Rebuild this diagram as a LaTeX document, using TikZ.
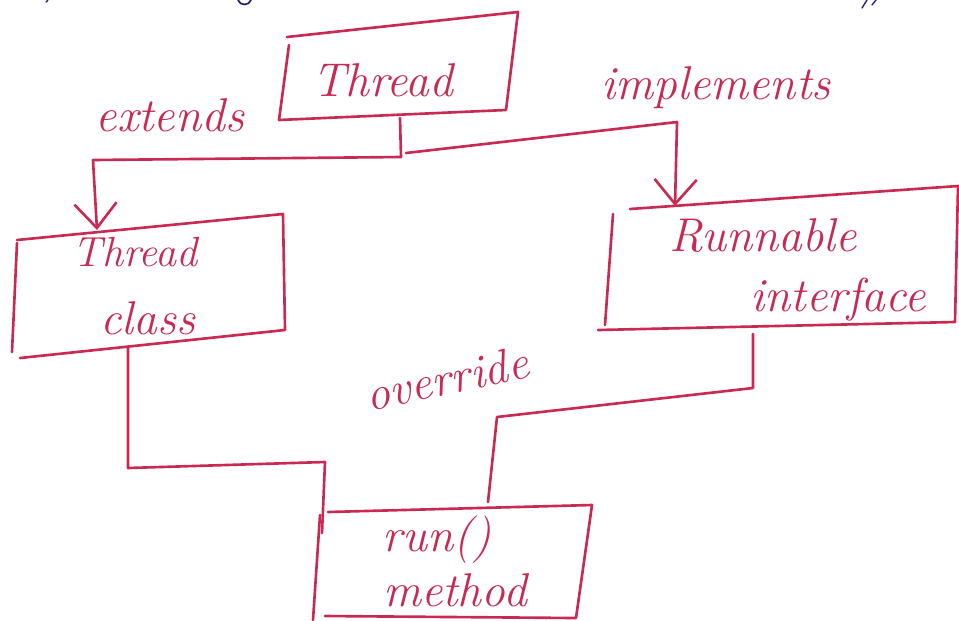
\documentclass[tikz,border=0pt]{standalone}
\usetikzlibrary{arrows.meta}
\definecolor{ink}{RGB}{200,42,82}
\definecolor{blueink}{RGB}{40,35,110}
\begin{document}
\begin{tikzpicture}[x=0.02cm,y=-0.02cm,
  pen/.style={draw=ink,line width=1.5pt,line cap=round,line join=round},
  conn/.style={pen},
  barb/.style={pen,-{Straight Barb[length=14pt,width=24pt,line width=1.5pt]}},
  hand/.style={text=ink,font=\fontsize{27}{30}\selectfont\itshape,inner sep=0pt}]
\useasboundingbox (0,0) rectangle (959,620);

% stray ink at the top edge
\draw[blueink,line width=1pt,line cap=round] (238,0) .. controls (240,6) and (249,6) .. (251,0);
\draw[blueink,line width=0.8pt,line cap=round] (46,2) -- (48,0);
\draw[blueink,line width=0.8pt,line cap=round] (862,8) -- (867,0) (872,5) -- (876,0);

% boxes, drawn as free-hand quadrilaterals
\draw[pen] (287,37) -- (518,12) -- (506,110) -- (279,120) -- (289,45);
\draw[pen] (17,240) -- (283,214) -- (285,330) -- (20,358);
\draw[pen] (17,243) -- (12,352);
\draw[pen] (630,209) -- (958,186) -- (955,322) -- (598,330);
\draw[pen] (613,214) -- (605,325);
\draw[pen] (328,512) -- (592,505) -- (576,618) -- (325,616);
\draw[pen] (320,515) -- (313,620);

% labels
\node[hand] (thread)    at (383,80)  {Thread};
\node[hand] (extends)   at (170,115) {extends};
\node[hand] (implements) at (716,88) {implements};
\node[hand,font=\fontsize{24}{28}\selectfont\itshape] (tc1) at (135,252) {Thread};
\node[hand] (tc2)       at (148,318) {class};
\node[hand] (runnable)  at (763,236) {Runnable};
\node[hand] (interface) at (838,300) {interface};
\node[hand,rotate=12] (override) at (447,378) {override};
\node[hand] (run)       at (437,540) {run()};
\node[hand] (method)    at (455,590) {method};

% connection points
\coordinate (tb) at (400,118);
\coordinate (j)  at (401,157);
\coordinate (jl) at (93,160);
\coordinate (tcTop) at (97,230);
\coordinate (jr0) at (406,153);
\coordinate (jr) at (677,122);
\coordinate (riTop) at (675,206);
\coordinate (tcBot) at (128,347);
\coordinate (l1) at (128,468);
\coordinate (l2) at (325,462);
\coordinate (rmL) at (322,533);
\coordinate (riBot) at (753,334);
\coordinate (r1) at (753,388);
\coordinate (r2) at (497,417);
\coordinate (rmT) at (488,502);

% connectors
\draw[conn] (tb) -- (j);
\draw[barb] (j) -- (jl) -- (tcTop);
\draw[barb] (jr0) -- (jr) -- (riTop);
\draw[conn] (tcBot) -- (l1) -- (l2) -- (rmL);
\draw[conn] (riBot) -- (r1) -- (r2) -- (rmT);
\end{tikzpicture}
\end{document}
